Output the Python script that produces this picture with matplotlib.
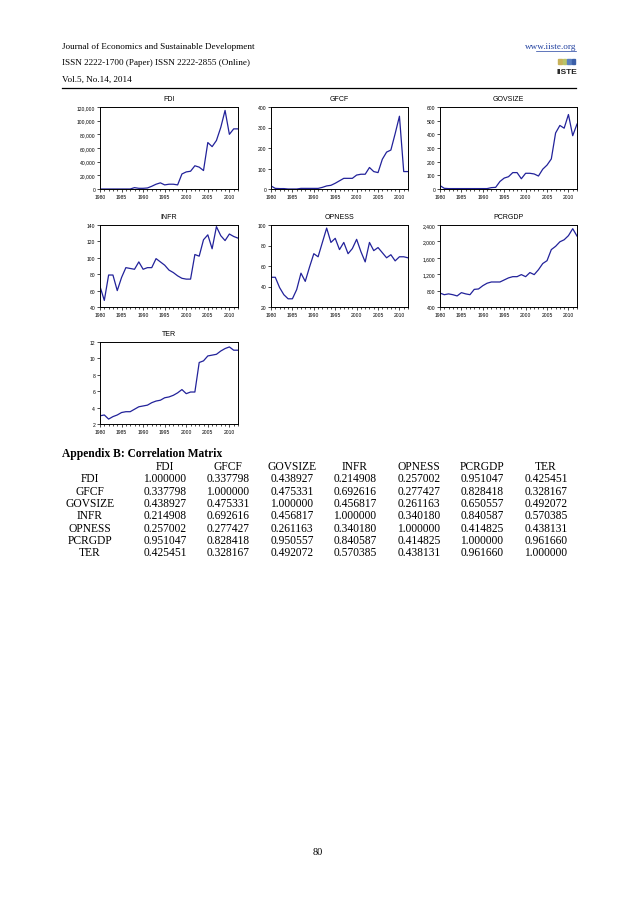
import matplotlib

matplotlib.use("Agg")
import matplotlib.pyplot as plt
from matplotlib.ticker import FuncFormatter, MultipleLocator
from matplotlib.patches import Rectangle

W, H = 638, 903

years = list(range(1980, 2013))

fdi = [0, 0, 0, 0, 0, 0, 0, 0, 2000, 1000, 1000, 1500, 4000, 7000, 9000, 6000, 7000,
       7000, 6000, 22000, 25000, 26000, 34000, 32000, 27000, 68000, 62000, 71000,
       90000, 115000, 80000, 88000, 88000]
gfcf = [15, 3, 2, 2, 0, 0, 0, 3, 3, 3, 3, 3, 8, 15, 18, 28, 40, 52, 52, 52, 68, 72,
        72, 105, 85, 80, 145, 180, 190, 270, 355, 85, 85]
govsize = [25, 5, 3, 3, 3, 3, 3, 3, 3, 3, 3, 3, 10, 12, 55, 80, 90, 120, 120, 75,
           115, 115, 110, 95, 145, 175, 220, 410, 465, 445, 545, 390, 475]
infr = [65, 48, 79, 79, 60, 76, 88, 87, 86, 95, 86, 88, 88, 99, 95, 91, 85, 82, 78,
        75, 74, 74, 104, 102, 122, 128, 111, 138, 127, 121, 129, 126, 124]
opness = [49, 49, 39, 32, 28, 28, 37, 53, 45, 59, 72, 69, 83, 97, 83, 87, 76, 83, 72,
          77, 86, 74, 64, 83, 75, 78, 73, 68, 71, 65, 69, 69, 68]
pcrgdp = [740, 700, 720, 700, 670, 750, 720, 700, 830, 840, 920, 980, 1010, 1010,
          1010, 1060, 1110, 1140, 1140, 1190, 1140, 1240, 1190, 1310, 1460, 1530,
          1800, 1880, 1990, 2040, 2140, 2310, 2130]
ter = [3.0, 3.1, 2.6, 2.9, 3.1, 3.4, 3.5, 3.5, 3.8, 4.1, 4.2, 4.3, 4.6, 4.8, 4.9,
       5.2, 5.3, 5.5, 5.8, 6.2, 5.7, 5.9, 5.9, 9.5, 9.7, 10.3, 10.4, 10.5, 10.9, 11.2,
       11.4, 11.0, 11.0]

names = ["FDI", "GFCF", "GOVSIZE", "INFR", "OPNESS", "PCRGDP", "TER"]
corr = [
    ["1.000000", "0.337798", "0.438927", "0.214908", "0.257002", "0.951047", "0.425451"],
    ["0.337798", "1.000000", "0.475331", "0.692616", "0.277427", "0.828418", "0.328167"],
    ["0.438927", "0.475331", "1.000000", "0.456817", "0.261163", "0.650557", "0.492072"],
    ["0.214908", "0.692616", "0.456817", "1.000000", "0.340180", "0.840587", "0.570385"],
    ["0.257002", "0.277427", "0.261163", "0.340180", "1.000000", "0.414825", "0.438131"],
    ["0.951047", "0.828418", "0.950557", "0.840587", "0.414825", "1.000000", "0.961660"],
    ["0.425451", "0.328167", "0.492072", "0.570385", "0.438131", "0.961660", "1.000000"],
]

fig = plt.figure(figsize=(W / 100, H / 100), dpi=100)
fig.patch.set_facecolor("white")


def px(x, y):
    return x / W, 1 - y / H


def panel(left, top, right, bottom, title, data, ylim, ystep, comma=False):
    ax = fig.add_axes([left / W, 1 - bottom / H, (right - left) / W, (bottom - top) / H])
    ax.plot(years, data, color="#22229a", lw=0.9)
    ax.set_xlim(1980, 2012)
    ax.set_ylim(*ylim)
    ax.set_title(title, fontsize=5, family="Liberation Sans", pad=5)
    ax.xaxis.set_major_locator(MultipleLocator(5))
    ax.xaxis.set_minor_locator(MultipleLocator(1))
    ax.yaxis.set_major_locator(MultipleLocator(ystep))
    if comma:
        ax.yaxis.set_major_formatter(FuncFormatter(lambda v, p: f"{int(v):,}"))
    ax.tick_params(which="both", direction="out", labelsize=3.6, length=2, width=0.5, pad=1.5)
    ax.tick_params(which="minor", length=1.5)
    for lab in ax.get_xticklabels() + ax.get_yticklabels():
        lab.set_family("Liberation Sans")
    for s in ax.spines.values():
        s.set_linewidth(0.7)
    return ax


panel(100, 108, 238, 190, "FDI", fdi, (0, 120000), 20000, comma=True)
panel(271, 108, 408, 190, "GFCF", gfcf, (0, 400), 100)
panel(440, 108, 577, 190, "GOVSIZE", govsize, (0, 600), 100)
panel(100, 226, 238, 308, "INFR", infr, (40, 140), 20)
panel(271, 226, 408, 308, "OPNESS", opness, (20, 100), 20)
panel(440, 226, 577, 308, "PCRGDP", pcrgdp, (400, 2400), 400, comma=True)
panel(100, 343, 238, 425, "TER", ter, (2, 12), 2)

# page header
serif = "Liberation Serif"
fig.text(*px(62, 47), "Journal of Economics and Sustainable Development", fontsize=6.6,
         family=serif, va="center")
fig.text(*px(62, 63), "ISSN 2222-1700 (Paper) ISSN 2222-2855 (Online)", fontsize=6.6,
         family=serif, va="center")
fig.text(*px(62, 80), "Vol.5, No.14, 2014", fontsize=6.6, family=serif, va="center")
fig.text(*px(576, 47), "www.iiste.org", fontsize=6.6, family=serif, va="center",
         ha="right", color="#1f3f9f")
fig.add_artist(plt.Line2D([536 / W, 576 / W], [1 - 51.5 / H, 1 - 51.5 / H],
                          color="#1f3f9f", lw=0.5, transform=fig.transFigure))
fig.add_artist(plt.Line2D([62 / W, 576 / W], [1 - 89 / H, 1 - 89 / H], color="black",
                          lw=0.9, transform=fig.transFigure))
# small logo
for i, c in enumerate(["#c8b25a", "#b9c46a", "#5a7fc0", "#3b5fa8"]):
    x0, y0 = px(558 + i * 4.5, 65)
    fig.add_artist(Rectangle((x0, y0), 3.5 / W, 5 / H, color=c, transform=fig.transFigure))
fig.text(*px(567, 73), "IISTE", fontsize=6, family="Liberation Sans", weight="bold",
         va="center", ha="center", color="#222222")

# correlation matrix
fig.text(*px(62, 454), "Appendix B: Correlation Matrix", fontsize=8.3, family=serif,
         weight="bold", va="center")
col_x = [165, 228, 292, 355, 419, 482, 546]
row_y = [479.5, 491.8, 504.1, 516.4, 528.7, 541, 553.3]
for j, n in enumerate(names):
    fig.text(*px(col_x[j], 467), n, fontsize=8.3, family=serif, ha="center", va="center")
for i, n in enumerate(names):
    fig.text(*px(90, row_y[i]), n, fontsize=8.3, family=serif, ha="center", va="center")
    for j in range(len(names)):
        fig.text(*px(col_x[j], row_y[i]), corr[i][j], fontsize=8.3, family=serif,
                 ha="center", va="center")

fig.text(*px(318, 853), "80", fontsize=7.5, family=serif, ha="center", va="center")

fig.savefig("out.png", dpi=100)
